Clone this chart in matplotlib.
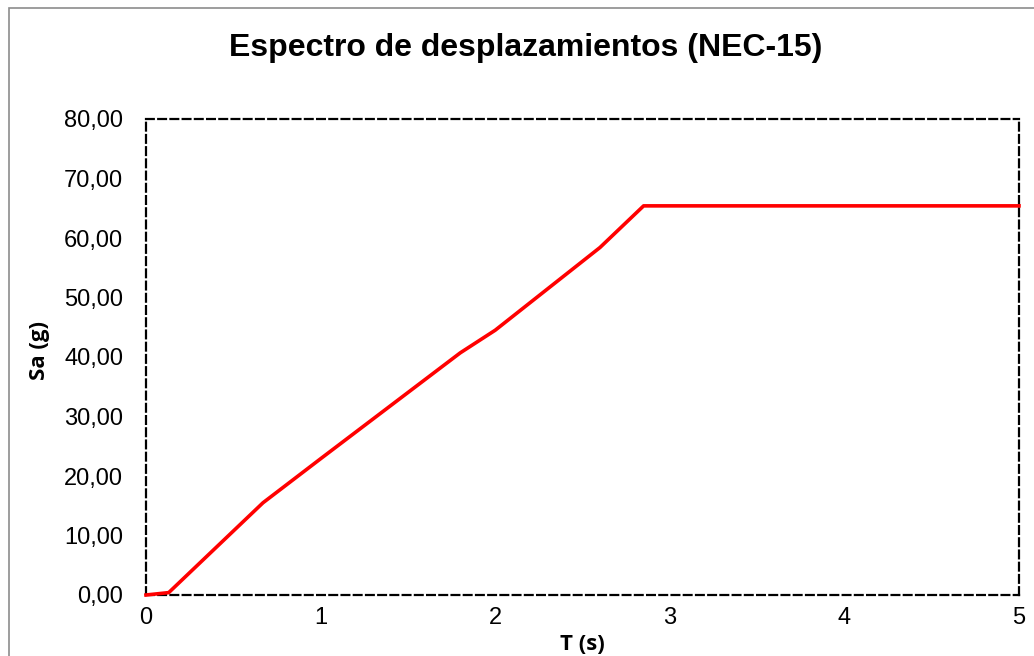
import matplotlib
matplotlib.use("Agg")
import matplotlib.pyplot as plt
from matplotlib.patches import Rectangle
from matplotlib.ticker import FuncFormatter

# Data
T_vals = [0.0, 0.13, 0.67, 1.0, 1.80, 2.0, 2.60, 2.85, 5.0]
Sa_vals = [0.0, 0.4, 15.5, 22.9, 40.7, 44.5, 58.4, 65.4, 65.4]
x_ticks = [0, 1, 2, 3, 4, 5]
y_ticks = [0, 10, 20, 30, 40, 50, 60, 70, 80]

title = "Espectro de desplazamientos (NEC-15)"
xlabel = "T (s)"
ylabel = "Sa (g)"

W, H = 1034, 656
fig = plt.figure(figsize=(W / 100, H / 100), dpi=100)
fig.patch.set_facecolor("white")

# Outer chart-area border (light gray)
fig.patches.append(Rectangle((9 / W, -0.1), 1.2, (H - 8) / H + 0.1,
                             transform=fig.transFigure, fill=False,
                             edgecolor="#8c8c8c", linewidth=1.2))

ax = fig.add_axes([146 / W, 1 - 595 / H, (1019 - 146) / W, (595 - 119) / H])
ax.plot(T_vals, Sa_vals, color="#ff0000", linewidth=2.6, solid_joinstyle="round",
        clip_on=False, zorder=3)
ax.set_xlim(0, 5)
ax.set_ylim(0, 80)
ax.set_xticks(x_ticks)
ax.set_yticks(y_ticks)
ax.yaxis.set_major_formatter(FuncFormatter(lambda v, p: f"{v:.2f}".replace(".", ",")))
ax.tick_params(length=0, labelsize=17, colors="black")
ax.tick_params(axis="y", pad=16.5)
ax.tick_params(axis="x", pad=9)
for lab in ax.get_xticklabels() + ax.get_yticklabels():
    lab.set_fontfamily("Liberation Sans")

for s in ax.spines.values():
    s.set_linestyle((0, (3.5, 2)))
    s.set_linewidth(1.6)
    s.set_color("black")

fig.text(526 / W, 1 - 48 / H, title, ha="center", va="center",
         fontsize=23, fontweight="bold", family="Liberation Sans")
fig.text(40 / W, 1 - 350 / H, ylabel, ha="center", va="center", rotation=90,
         fontsize=16, fontweight="bold", family="Open Sans")
fig.text(582 / W, 1 - 645 / H, xlabel, ha="center", va="center",
         fontsize=16, fontweight="bold", family="Open Sans")

fig.savefig("out.png", dpi=100)
